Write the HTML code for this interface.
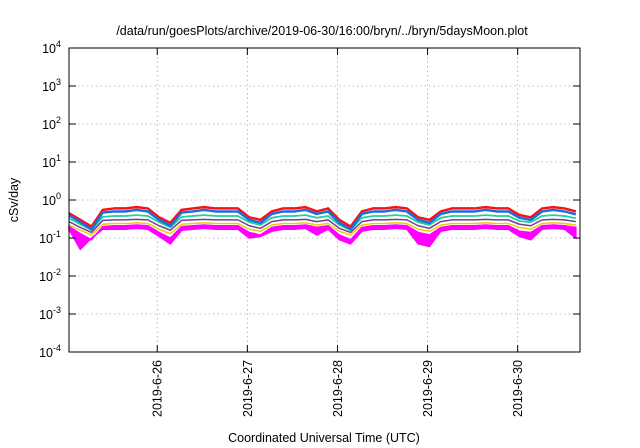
<!DOCTYPE html>
<html><head><meta charset="utf-8"><style>
html,body{margin:0;padding:0;background:#fff;}
svg{display:block;font-family:"Liberation Sans",sans-serif;}
</style></head><body>
<svg id="chart" width="640" height="448" viewBox="0 0 640 448" xmlns="http://www.w3.org/2000/svg">
<rect width="640" height="448" fill="#fff"/>
<text x="322" y="35" font-size="12.5" text-anchor="middle">/data/run/goesPlots/archive/2019-06-30/16:00/bryn/../bryn/5daysMoon.plot</text>
<text transform="translate(18,200) rotate(-90)" font-size="12.5" text-anchor="middle">cSv/day</text>
<text x="324" y="442" font-size="12.5" text-anchor="middle">Coordinated Universal Time (UTC)</text>
<g id="grid"></g><g id="series"></g><g id="axes"></g>
</svg>
<script>
const hours = [];
for (let i = 0; i < 46; i++) hours.push(0.5 + i * 3);
const red = [0.45,0.3,0.2,0.55,0.6,0.6,0.65,0.6,0.35,0.25,0.55,0.6,0.65,0.6,0.6,0.6,0.35,0.3,0.5,0.6,0.6,0.65,0.5,0.6,0.3,0.2,0.5,0.6,0.6,0.65,0.6,0.35,0.3,0.5,0.6,0.6,0.6,0.65,0.6,0.6,0.4,0.35,0.6,0.65,0.6,0.5];
const blue = [0.4,0.26,0.17,0.47,0.5,0.5,0.55,0.5,0.3,0.21,0.47,0.5,0.55,0.5,0.5,0.5,0.3,0.25,0.43,0.5,0.5,0.55,0.43,0.5,0.25,0.17,0.43,0.5,0.5,0.55,0.5,0.3,0.25,0.43,0.5,0.5,0.5,0.55,0.5,0.5,0.34,0.3,0.5,0.55,0.5,0.42];
const teal = [0.33,0.23,0.16,0.36,0.38,0.38,0.4,0.38,0.26,0.19,0.36,0.38,0.4,0.38,0.38,0.38,0.26,0.22,0.34,0.38,0.38,0.4,0.34,0.38,0.22,0.16,0.34,0.38,0.38,0.4,0.38,0.26,0.22,0.34,0.38,0.38,0.38,0.4,0.38,0.38,0.28,0.26,0.38,0.4,0.38,0.33];
const purple = [0.27,0.19,0.14,0.29,0.3,0.3,0.31,0.3,0.21,0.16,0.29,0.3,0.31,0.3,0.3,0.3,0.21,0.18,0.27,0.3,0.3,0.31,0.27,0.3,0.18,0.14,0.27,0.3,0.3,0.31,0.3,0.21,0.18,0.27,0.3,0.3,0.3,0.31,0.3,0.3,0.23,0.21,0.3,0.31,0.3,0.27];
const yellow = [0.22,0.16,0.12,0.23,0.24,0.24,0.25,0.24,0.17,0.13,0.23,0.24,0.25,0.24,0.24,0.24,0.17,0.15,0.22,0.24,0.24,0.25,0.22,0.24,0.15,0.12,0.22,0.24,0.24,0.25,0.24,0.17,0.15,0.22,0.24,0.24,0.24,0.25,0.24,0.24,0.19,0.17,0.24,0.25,0.24,0.22];
const magTop = [0.2,0.13,0.09,0.2,0.21,0.21,0.22,0.21,0.14,0.1,0.2,0.21,0.22,0.21,0.21,0.21,0.14,0.12,0.19,0.21,0.21,0.22,0.19,0.21,0.12,0.09,0.19,0.21,0.21,0.22,0.21,0.14,0.12,0.19,0.21,0.21,0.21,0.22,0.21,0.21,0.15,0.14,0.21,0.22,0.21,0.19];
const magLow = [0.17,0.05,0.1,0.17,0.17,0.17,0.18,0.17,0.11,0.07,0.16,0.17,0.18,0.17,0.17,0.17,0.1,0.11,0.15,0.17,0.17,0.18,0.12,0.17,0.09,0.07,0.15,0.17,0.17,0.18,0.17,0.07,0.06,0.15,0.17,0.17,0.17,0.18,0.17,0.17,0.11,0.09,0.17,0.18,0.17,0.1];
const yExps = [-4,-3,-2,-1,0,1,2,3,4];
const xTickLabels = ["2019-6-26","2019-6-27","2019-6-28","2019-6-29","2019-6-30"];
const xTickHours = [24,48,72,96,120];

const L=69,R=580,T=48,B=352,H0=0.5,H1=136.6;
const xs=h=>L+(h-H0)/(H1-H0)*(R-L);
const ys=v=>B-(Math.log10(v)+4)/8*(B-T);
const NS="http://www.w3.org/2000/svg";
function mk(tag,parent,attrs){const e=document.createElementNS(NS,tag);for(const k in attrs)e.setAttribute(k,attrs[k]);parent.appendChild(e);return e;}
const grid=document.getElementById('grid'),axes=document.getElementById('axes'),ser=document.getElementById('series');

yExps.forEach(p=>{
  const y=ys(Math.pow(10,p));
  if(p>-4&&p<4){const g=mk('line',grid,{x1:L,x2:R,y1:y,y2:y,stroke:'#aaa','stroke-width':0.8,'stroke-dasharray':'1.5,3'});
  
  
  mk('line',axes,{x1:L,x2:L+7,y1:y,y2:y,stroke:'#000'});
  mk('line',axes,{x1:R-7,x2:R,y1:y,y2:y,stroke:'#000'});}
  const t=mk('text',axes,{x:61,y:y+5,'font-size':12.5,'text-anchor':'end'});
  
  
  t.textContent='10';
  const s=mk('tspan',t,{dy:-6,'font-size':9});s.textContent=String(p);
});
xTickHours.forEach((h,i)=>{
  const x=xs(h);
  const g=mk('line',grid,{x1:x,x2:x,y1:T,y2:B,stroke:'#aaa','stroke-width':0.8,'stroke-dasharray':'1.5,3'});
  
  
  mk('line',axes,{x1:x,x2:x,y1:B-7,y2:B,stroke:'#000'});
  mk('line',axes,{x1:x,x2:x,y1:T,y2:T+7,stroke:'#000'});
  const t=mk('text',axes,{transform:`translate(${x+4.5},360) rotate(-90)`,'font-size':12.5,'text-anchor':'end'});
  
  
  t.textContent=xTickLabels[i];
});
const frame=mk('rect',axes,{x:L,y:T,width:R-L,height:B-T,fill:'none',stroke:'#000','stroke-width':1});



const band=mk('path',ser,{d:'M'+hours.map((h,i)=>xs(h)+','+ys(magTop[i])).join('L')+'L'+hours.slice().reverse().map((h,j)=>{const i=hours.length-1-j;return xs(h)+','+ys(magLow[i]);}).join('L')+'Z',fill:'#ff00ff',stroke:'#ff00ff','stroke-width':1.5});


const defs=[[yellow,'#e8d000',1.5,'yellow-series'],[purple,'#7a3b8a',1.5,'purple-series'],[teal,'#20d0a0',1.8,'teal-series'],[red,'#ff1010',2.5,'red-series'],[blue,'#1a6ee0',2.5,'blue-series']];
defs.forEach(([arr,c,w,n])=>{
  const p=mk('polyline',ser,{points:hours.map((h,i)=>xs(h)+','+ys(arr[i])).join(' '),fill:'none',stroke:c,'stroke-width':w,'stroke-linejoin':'round'});
  
  
});
</script>
</body></html>
